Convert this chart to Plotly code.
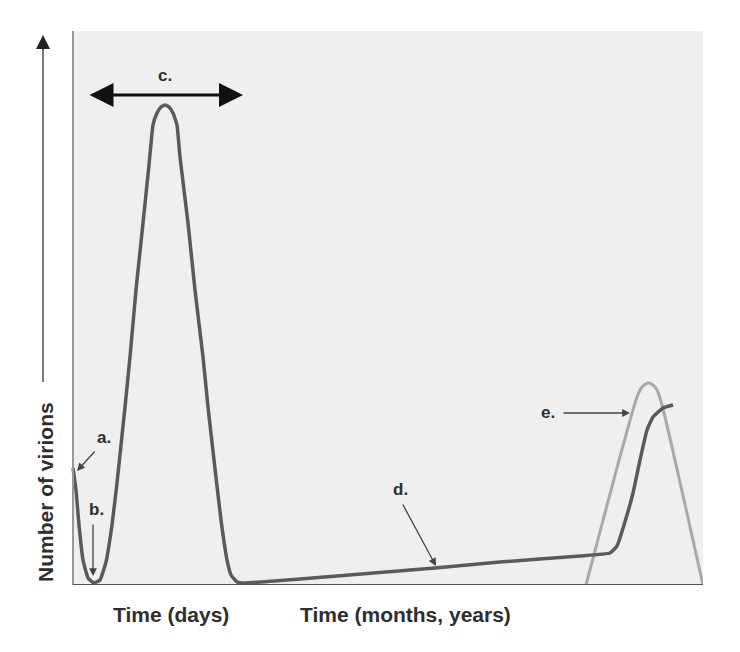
import plotly.graph_objects as go

# units are arbitrary (relative time / relative virion count), no ticks in the original
# main infection curve (dark)
main_x = [0, 3, 6, 10, 15, 21, 27, 33, 39, 44, 52, 57, 63, 70, 76, 80, 84, 88, 92,
          96, 100, 104, 107, 115, 122, 130, 135, 141, 148, 154, 158, 164, 172,
          227, 362, 427, 507, 537, 544, 551, 560, 567, 574, 580, 590, 600]
main_y = [117, 95, 60, 25, 7, 2, 5, 23, 60, 102, 178, 228, 295, 362, 420, 460, 472, 478, 480,
          478, 472, 460, 428, 362, 295, 228, 178, 125, 65, 25, 10, 3, 2,
          6, 17, 23, 29, 32, 39, 60, 92, 125, 155, 168, 177, 180]

# second burst (light)
burst_x = [513, 564, 569, 575, 580, 584, 589, 630]
burst_y = [0, 188, 198, 202, 200, 195, 180, 0]

# labels: (text, x, y)
labels = [
    ("a.", 31, 148),
    ("b.", 23, 76),
    ("c.", 92, 510),
    ("d.", 327, 96),
    ("e.", 475, 173),
]
# pointer arrows: (tail x, tail y, head x, head y)
pointers = [
    (23, 135, 4, 114),
    (20, 62, 20, 9),
    (329, 82, 363, 19),
    (489, 172, 557, 172),
]
# phase c. span
c_span = (15, 170, 490)

# panel extent in data units
x_max, y_max = 630, 554

x_titles = [("Time (days)", 98), ("Time (months, years)", 332)]
y_title = ("Number of virions", -28, 93)
y_arrow = (-30, 203, 550)

bold = dict(family="Liberation Sans", size=21, color="#2e2e2e", weight="bold")
small = dict(family="Liberation Sans", size=17, color="#2e2e2e", weight="bold")

fig = go.Figure()

# grey panel and its two edges
fig.add_shape(type="rect", x0=0, x1=x_max, y0=0, y1=y_max, layer="below",
              fillcolor="#efefef", line=dict(width=0))
fig.add_shape(type="line", x0=0, x1=0, y0=0, y1=y_max, line=dict(color="#999999", width=2))
fig.add_shape(type="line", x0=0, x1=x_max, y0=0, y1=0, line=dict(color="#555555", width=2))

# shaft of the y arrow, same mechanism as the panel edges
fig.add_shape(type="line", x0=y_arrow[0], x1=y_arrow[0], y0=y_arrow[1], y1=y_arrow[2] - 8,
              line=dict(color="#7a7a7a", width=2))

fig.add_trace(go.Scatter(
    x=burst_x, y=burst_y, mode="lines",
    line=dict(color="#a9a9a9", width=3, shape="spline", smoothing=0.6),
    hoverinfo="skip",
))
fig.add_trace(go.Scatter(
    x=main_x, y=main_y, mode="lines",
    line=dict(color="#5a5a5a", width=3.5, shape="spline", smoothing=0.35),
    hoverinfo="skip",
))

ann = []
for t, x, y in labels:
    ann.append(dict(x=x, y=y, text=t, showarrow=False, font=small))

for tx, ty, hx, hy in pointers:
    ann.append(dict(
        x=hx, y=hy, ax=tx, ay=ty, xref="x", yref="y", axref="x", ayref="y",
        text="", showarrow=True, arrowhead=2, arrowsize=1.2, arrowwidth=1.3,
        arrowcolor="#444444",
    ))

# double headed arrow for c.
ann.append(dict(
    x=c_span[1], y=c_span[2], ax=c_span[0], ay=c_span[2],
    xref="x", yref="y", axref="x", ayref="y",
    text="", showarrow=True, arrowhead=2, arrowside="end+start",
    arrowsize=1.5, arrowwidth=3.2, arrowcolor="#111111",
))

for t, x in x_titles:
    ann.append(dict(x=x, y=-0.054, xref="x", yref="y domain", text=t,
                    xanchor="center", yanchor="middle", showarrow=False, font=bold))

# dark head of the y arrow
ann.append(dict(
    x=y_arrow[0], y=y_arrow[2], ax=y_arrow[0], ay=y_arrow[2] - 16,
    xref="x", yref="y", axref="x", ayref="y",
    text="", showarrow=True, arrowhead=2, arrowsize=1.4, arrowwidth=2,
    arrowcolor="#222222",
))
ann.append(dict(x=y_title[1], y=y_title[2], text=y_title[0], textangle=-90,
                xanchor="center", yanchor="middle", showarrow=False, font=bold))

# page body adds 8px offset; axes span the left margin too so the y arrow stays inside
fig.update_layout(
    width=740, height=652,
    margin=dict(l=0, r=45, t=23, b=75),
    paper_bgcolor="white",
    plot_bgcolor="white",
    showlegend=False,
    annotations=ann,
    xaxis=dict(range=[-65, x_max], showgrid=False, zeroline=False, showticklabels=False,
               ticks="", showline=False),
    yaxis=dict(range=[0, y_max], showgrid=False, zeroline=False, showticklabels=False,
               ticks="", showline=False),
)

fig.write_html("out.html")
